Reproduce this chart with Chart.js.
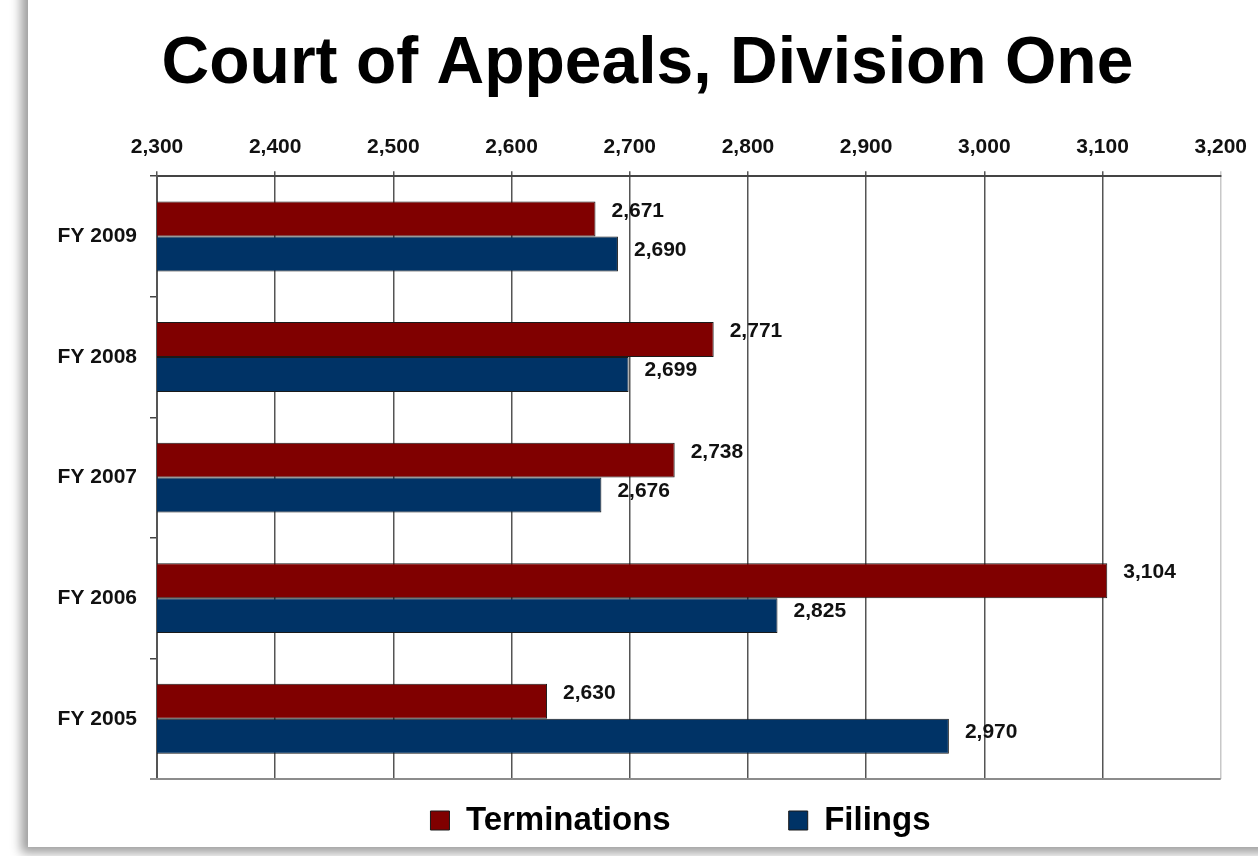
<!DOCTYPE html>
<html>
<head>
<meta charset="utf-8">
<script src="https://cdn.jsdelivr.net/npm/chart.js@4"></script>
<style>
  html, body { margin: 0; padding: 0; background: #fff; overflow: hidden; }
  #card {
    position: absolute; left: 28px; top: -20px; width: 1260px; height: 867px;
    background: #fff; box-shadow: -6px 5px 10px 1px rgba(0,0,0,0.38);
  }
  #wrap { position: absolute; left: 0; top: 0; width: 1258px; height: 856px; }
</style>
</head>
<body>
<div id="card"></div>
<div id="wrap"><canvas id="myChart" width="1258" height="856"></canvas></div>
<script>
var categories = ['FY 2009', 'FY 2008', 'FY 2007', 'FY 2006', 'FY 2005'];
var terminations = [2671, 2771, 2738, 3104, 2630];
var filings = [2690, 2699, 2676, 2825, 2970];
var xTicks = [2300, 2400, 2500, 2600, 2700, 2800, 2900, 3000, 3100, 3200];

var FONT = "'Liberation Sans', Arial, sans-serif";

function fmt(v) {
  return v.toLocaleString('en-US');
}

// value labels next to the bar ends
var valueLabels = {
  id: 'valueLabels',
  afterDatasetsDraw: function (chart) {
    var ctx = chart.ctx;
    ctx.save();
    ctx.font = 'bold 21px ' + FONT;
    ctx.fillStyle = '#111';
    ctx.textBaseline = 'middle';
    ctx.textAlign = 'left';
    chart.data.datasets.forEach(function (ds, i) {
      chart.getDatasetMeta(i).data.forEach(function (bar, j) {
        ctx.fillText(fmt(ds.data[j]), bar.x + 16, bar.y + (i === 0 ? -8 : -4));
      });
    });
    ctx.restore();
  }
};

// grey line along the bottom of the plot
var plotFrame = {
  id: 'plotFrame',
  beforeDatasetsDraw: function (chart) {
    var a = chart.chartArea, ctx = chart.ctx;
    ctx.save();
    ctx.strokeStyle = '#8c8c8c';
    ctx.lineWidth = 2;
    ctx.beginPath();
    ctx.moveTo(a.left - 7, a.bottom);
    ctx.lineTo(a.right, a.bottom);
    ctx.stroke();
    ctx.restore();
  }
};

// shift title and legend a bit right, legend up, like the original
var nudge = {
  id: 'nudge',
  afterLayout: function (chart) {
    var t = chart.titleBlock;
    t.left += 11; t.right += 11;
    var lg = chart.legend;
    lg.left += 44; lg.right += 44;
    lg.top -= 93;
  }
};

var ctx = document.getElementById('myChart').getContext('2d');
var chart = new Chart(ctx, {
  type: 'bar',
  data: {
    labels: categories,
    datasets: [{
        label: 'Terminations',
        data: terminations,
        backgroundColor: '#800000',
        borderColor: '#1a1a1a',
        borderWidth: 1,
        categoryPercentage: 0.58,
        barPercentage: 1
      },
      {
        label: 'Filings',
        data: filings,
        backgroundColor: '#003366',
        borderColor: '#1a1a1a',
        borderWidth: 1,
        categoryPercentage: 0.58,
        barPercentage: 1
      }
    ]
  },
  options: {
    indexAxis: 'y',
    responsive: false,
    animation: false,
    layout: { padding: { left: 50, right: 35, top: 0, bottom: 0 } },
    scales: {
      x: {
        position: 'top',
        min: xTicks[0],
        max: xTicks[xTicks.length - 1],
        afterBuildTicks: function (scale) {
          scale.ticks = xTicks.map(function (v) { return { value: v }; });
        },
        afterFit: function (scale) { scale.height = 72; },
        ticks: {
          color: '#111',
          padding: 11,
          maxRotation: 0,
          font: { family: FONT, size: 21, weight: 'bold' },
          callback: function (v) { return fmt(v); }
        },
        grid: {
          color: function (c) { return c.index === xTicks.length - 1 ? '#c8c8c8' : '#555'; },
          lineWidth: 1.5,
          tickLength: 5
        },
        border: { color: '#444', width: 2 }
      },
      y: {
        afterFit: function (scale) { scale.width = 107; },
        ticks: {
          color: '#111',
          padding: 13,
          font: { family: FONT, size: 21, weight: 'bold' }
        },
        grid: {
          drawOnChartArea: false,
          color: '#444',
          tickLength: 7,
          lineWidth: 1.5
        },
        border: { color: '#555', width: 2 }
      }
    },
    plugins: {
      title: {
        display: true,
        text: 'Court of Appeals, Division One',
        color: '#000',
        font: { family: FONT, size: 66, weight: 'bold' },
        padding: { top: 25, bottom: 0 }
      },
      legend: {
        position: 'bottom',
        maxHeight: 77,
        labels: {
          color: '#000',
          boxWidth: 19,
          boxHeight: 19,
          padding: 118,
          font: { family: FONT, size: 33, weight: 'bold' }
        }
      },
      tooltip: { enabled: false }
    }
  },
  plugins: [valueLabels, plotFrame, nudge]
});
</script>
</body>
</html>
